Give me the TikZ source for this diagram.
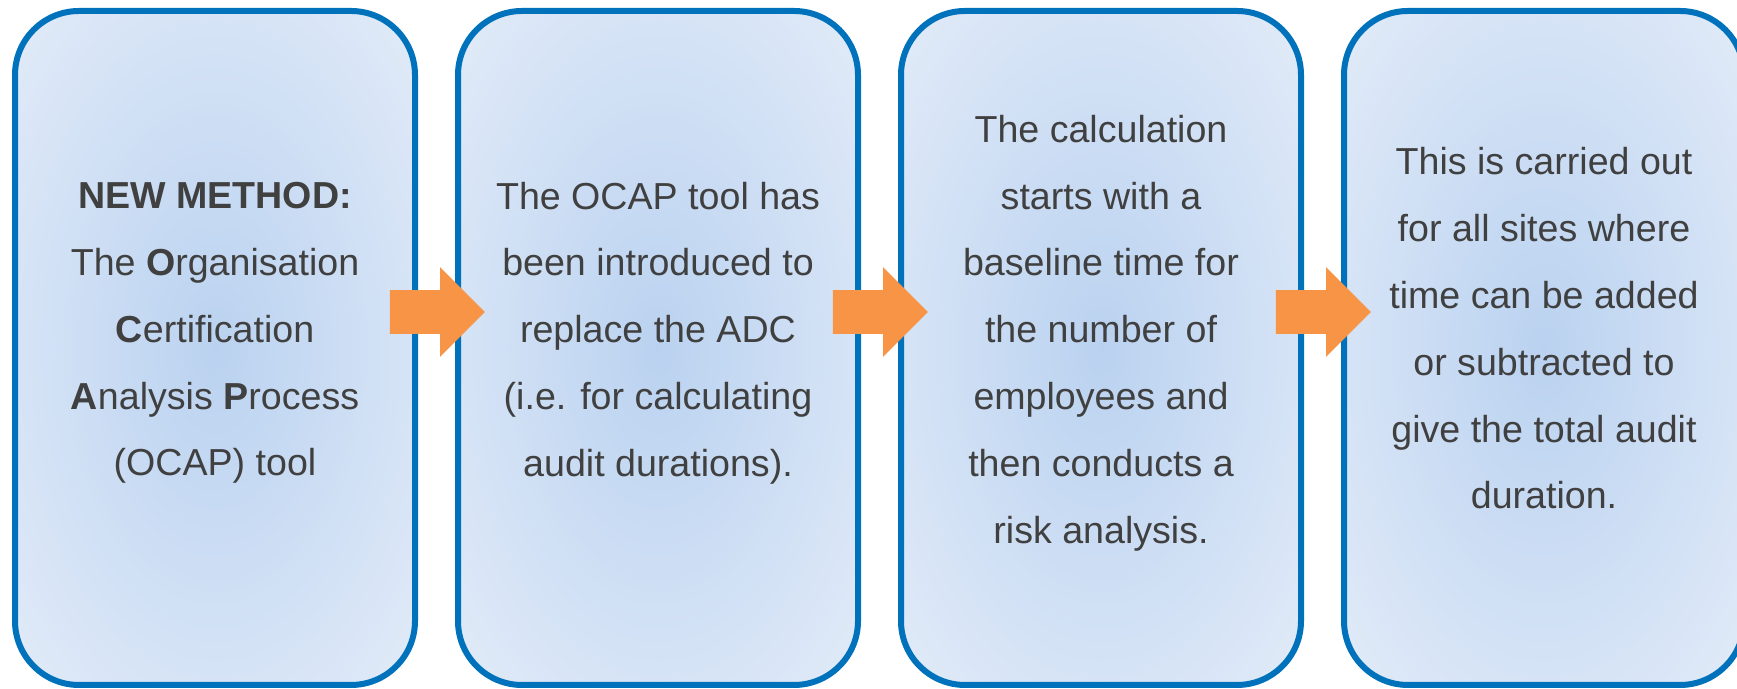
\documentclass[tikz,border=0pt]{standalone}
\usepackage{fontspec}
\setmainfont{Liberation Sans}
\usetikzlibrary{positioning,shapes.arrows,calc}
\definecolor{ocapblue}{RGB}{0,114,187}
\definecolor{ocapfillin}{RGB}{186,210,240}
\definecolor{ocapfillout}{RGB}{229,237,249}
\definecolor{ocaporange}{RGB}{247,148,70}
\definecolor{ocaptext}{RGB}{64,64,64}
\pgfdeclareradialshading{stagefill}{\pgfpoint{0bp}{0bp}}{color(0bp)=(ocapfillin); color(38bp)=(ocapfillout); color(60bp)=(ocapfillout)}
\tikzset{
  stage/.style={rectangle, rounded corners=32pt, draw=ocapblue, line width=3pt,
                shading=stagefill, minimum width=200pt, minimum height=337pt},
  stagetext/.style={align=center, text=ocaptext, font=\fontsize{18.8}{33.4}\selectfont},
  stagearr/.style={single arrow, fill=ocaporange, draw=none, inner xsep=0pt, inner ysep=10.75pt,
                   single arrow head extend=11.5pt, minimum height=47.5pt},
}

\begin{document}
\begin{tikzpicture}[x=0.5pt, y=0.5pt, node distance=18.5pt]
  \useasboundingbox (0,0) rectangle (1737,689);
  % the four stages
  \node[stage] (a) at (215,341) {};
  \node[stage, right=of a] (b) {};
  \node[stage, right=of b] (c) {};
  \node[stage, right=of c] (d) {};
  \node[stagetext] (ta) at ([yshift=7.5pt]a.center) {\textbf{NEW METHOD:}\\The \textbf{O}rganisation\\\textbf{C}ertification\\\textbf{A}nalysis \textbf{P}rocess\\(OCAP) tool};
  \node[stagetext] (tb) at ([yshift=7.5pt]b.center) {The OCAP tool has\\been introduced to\\replace the ADC\\(i.e. for calculating\\audit durations).};
  \node[stagetext] (tc) at ([yshift=7.5pt]c.center) {The calculation\\starts with a\\baseline time for\\the number of\\employees and\\then conducts a\\risk analysis.};
  \node[stagetext] (td) at ([yshift=9.8pt]d.center) {This is carried out\\for all sites where\\time can be added\\or subtracted to\\give the total audit\\duration.};
  % block arrows between stages
  \node[stagearr] (ab) at ($(a.east)!0.5!(b.west)+(-5pt,18pt)$) {};
  \node[stagearr] (bc) at ($(b.east)!0.5!(c.west)+(-5pt,18pt)$) {};
  \node[stagearr] (cd) at ($(c.east)!0.5!(d.west)+(-5pt,18pt)$) {};
\end{tikzpicture}
\end{document}
